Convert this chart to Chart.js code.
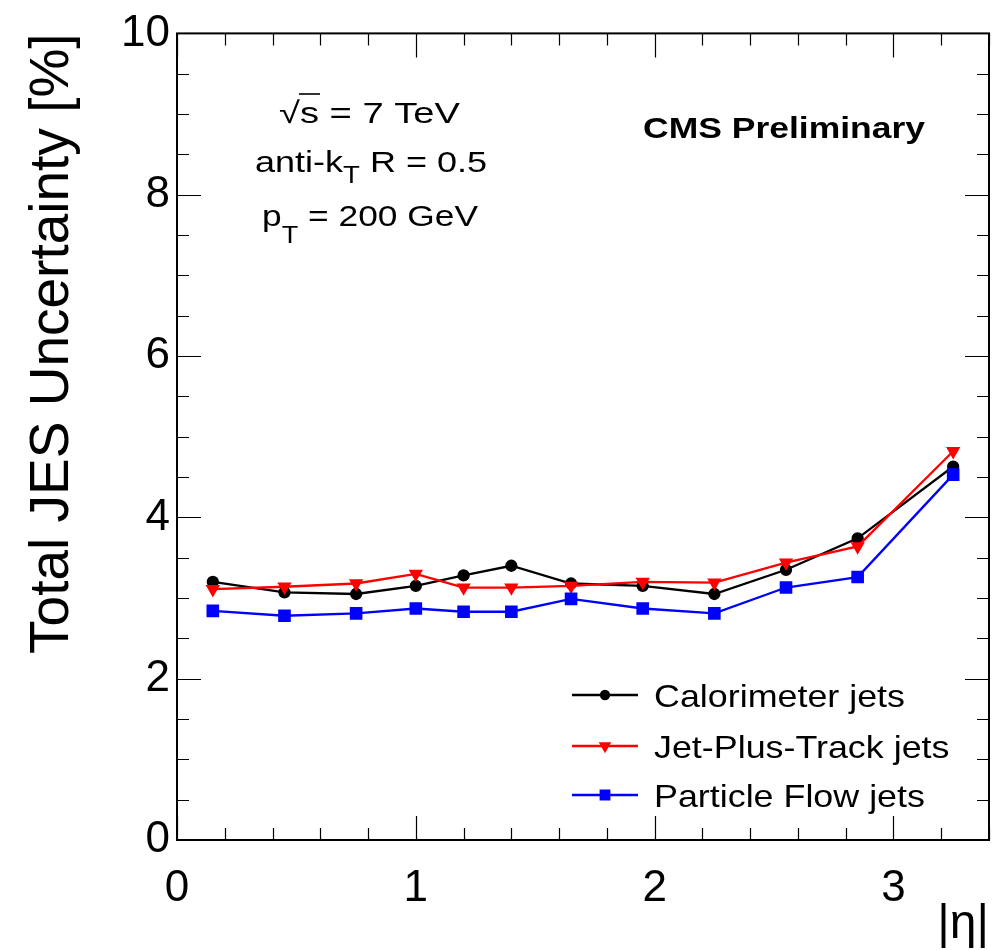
<!DOCTYPE html>
<html><head><meta charset="utf-8">
<script src="https://cdn.jsdelivr.net/npm/chart.js@4"></script>
<style>html,body{margin:0;padding:0;background:#fff}canvas{display:block}</style>
</head><body>
<canvas id="c" width="993" height="950"></canvas>
<script>
// ---- data ----
const etaBins   = [0.15, 0.45, 0.75, 1.0, 1.2, 1.4, 1.65, 1.95, 2.25, 2.55, 2.85, 3.25];
const caloJets  = [3.20, 3.07, 3.05, 3.15, 3.28, 3.40, 3.18, 3.15, 3.05, 3.35, 3.74, 4.63];
const jptJets   = [3.11, 3.14, 3.18, 3.30, 3.13, 3.13, 3.15, 3.20, 3.19, 3.44, 3.64, 4.82];
const pfJets    = [2.84, 2.78, 2.81, 2.87, 2.83, 2.83, 2.99, 2.87, 2.81, 3.13, 3.26, 4.53];
const seriesNames = ['Calorimeter jets', 'Jet-Plus-Track jets', 'Particle Flow jets'];
const xTickLabels = [0, 1, 2, 3];
const yTickLabels = [0, 2, 4, 6, 8, 10];

const FONT = '"Liberation Sans", Arial, Helvetica, sans-serif';
const pts = ys => etaBins.map((x, i) => ({x: x, y: ys[i]}));

function drawRuns(ctx, runs, cx, baseline, targetW) {
  let w = 0;
  runs.forEach(r => {
    ctx.font = (r.bold ? 'bold ' : '') + r.size + 'px ' + FONT;
    r.w = ctx.measureText(r.t).width; w += r.w;
  });
  const sx = targetW / w;
  let x = cx - targetW / 2;
  runs.forEach(r => {
    ctx.save();
    ctx.font = (r.bold ? 'bold ' : '') + r.size + 'px ' + FONT;
    ctx.translate(x, baseline + (r.dy || 0));
    ctx.scale(sx, 1);
    ctx.fillText(r.t, 0, 0);
    ctx.restore();
    r.x = x; r.sw = r.w * sx; x += r.sw;
  });
  return runs;
}

const frameTicks = {
  id: 'frameTicks',
  afterDatasetsDraw(chart) {
    const {ctx, chartArea: a, scales: {x, y}} = chart;
    ctx.save();
    ctx.strokeStyle = '#000';
    ctx.lineWidth = 1.2;
    ctx.beginPath();
    for (let i = 0; i <= 17; i++) {
      const v = i * 0.2;
      if (v > x.max + 1e-9) break;
      const L = (i % 5 === 0) ? 24 : 12;
      const px = Math.round(x.getPixelForValue(v)) + 0.5;
      ctx.moveTo(px, a.bottom); ctx.lineTo(px, a.bottom - L);
      ctx.moveTo(px, a.top); ctx.lineTo(px, a.top + L);
    }
    for (let i = 0; i <= 20; i++) {
      const v = i * 0.5;
      const L = (i % 4 === 0) ? 24 : 12;
      const py = Math.round(y.getPixelForValue(v)) + 0.5;
      ctx.moveTo(a.left, py); ctx.lineTo(a.left + L, py);
      ctx.moveTo(a.right, py); ctx.lineTo(a.right - L, py);
    }
    ctx.stroke();
    ctx.lineWidth = 2;
    ctx.strokeRect(a.left, a.top, a.right - a.left, a.bottom - a.top);
    ctx.restore();
  },
  afterDraw(chart) {
    const ctx = chart.ctx;
    ctx.save();
    ctx.fillStyle = '#000';
    ctx.textBaseline = 'alphabetic';
    // sqrt(s) line
    const l1 = drawRuns(ctx, [{t: '\u221A', size: 30}, {t: 's = 7 TeV', size: 30}], 369.5, 123, 181);
    ctx.font = '30px ' + FONT;
    const sW = ctx.measureText('s').width * (l1[1].sw / l1[1].w);
    ctx.strokeStyle = '#000'; ctx.lineWidth = 1.6;
    ctx.beginPath(); ctx.moveTo(l1[1].x - 1, 94); ctx.lineTo(l1[1].x + sW + 1, 94); ctx.stroke();
    drawRuns(ctx, [{t: 'anti-k', size: 30}, {t: 'T', size: 23, dy: 11}, {t: ' R = 0.5', size: 30}], 371, 172, 232);
    drawRuns(ctx, [{t: 'p', size: 30}, {t: 'T', size: 23, dy: 17}, {t: ' = 200 GeV', size: 30}], 370, 226, 216);
    drawRuns(ctx, [{t: 'CMS Preliminary', size: 30, bold: true}], 784, 138, 282);

    // legend
    const rows = [695, 746, 795];
    ctx.font = '32px ' + FONT;
    const sx = 251 / ctx.measureText(chart.data.datasets[0].label).width;
    chart.data.datasets.forEach((ds, i) => {
      const cy = rows[i];
      ctx.strokeStyle = ds.borderColor; ctx.lineWidth = 2.3;
      ctx.beginPath(); ctx.moveTo(572, cy); ctx.lineTo(638, cy); ctx.stroke();
      ctx.fillStyle = ds.pointBackgroundColor; ctx.strokeStyle = ds.borderColor;
      Chart.helpers.drawPoint(ctx, {pointStyle: ds.pointStyle, rotation: ds.pointRotation || 0,
        radius: ds.legendRadius, borderWidth: 1}, 605, cy);
      ctx.fillStyle = '#000';
      ctx.save();
      ctx.font = '32px ' + FONT;
      ctx.translate(654, cy + 12); ctx.scale(sx, 1);
      ctx.fillText(ds.label, 0, 0);
      ctx.restore();
    });
    ctx.restore();
  }
};

new Chart(document.getElementById('c'), {
  type: 'line',
  data: {
    datasets: [
      {label: seriesNames[0], data: pts(caloJets), borderColor: '#000000', backgroundColor: '#000000',
       pointBackgroundColor: '#000000', pointBorderColor: '#000000', pointStyle: 'circle', pointRadius: 5,
       legendRadius: 4, borderWidth: 2.3, order: 2},
      {label: seriesNames[1], data: pts(jptJets), borderColor: '#ff0000', backgroundColor: '#ff0000',
       pointBackgroundColor: '#ff0000', pointBorderColor: '#ff0000', pointStyle: 'triangle', pointRotation: 180,
       pointRadius: 6, legendRadius: 5, borderWidth: 2.3, order: 1},
      {label: seriesNames[2], data: pts(pfJets), borderColor: '#0000ff', backgroundColor: '#0000ff',
       pointBackgroundColor: '#0000ff', pointBorderColor: '#0000ff', pointStyle: 'rect', pointRadius: 7.3,
       legendRadius: 6, borderWidth: 2.3, order: 0}
    ]
  },
  options: {
    responsive: false,
    animation: false,
    devicePixelRatio: 1,
    layout: {autoPadding: false, padding: {top: 32, right: 4, left: 0, bottom: 0}},
    elements: {line: {tension: 0}, point: {borderWidth: 1}},
    plugins: {legend: {display: false}, tooltip: {enabled: false}},
    scales: {
      x: {
        type: 'linear', min: 0, max: 3.4,
        afterBuildTicks: s => { s.ticks = xTickLabels.map(v => ({value: v})); },
        afterFit: s => { s.height = 110; },
        grid: {display: false, drawTicks: false},
        border: {display: false},
        ticks: {color: '#000', font: {family: FONT, size: 44}, padding: 22, maxRotation: 0,
                autoSkip: false, callback: v => String(v)},
        title: {display: true, text: '|\u03B7|', align: 'end', color: '#000',
                font: {family: FONT, size: 48, lineHeight: 1}, padding: {top: 0, bottom: 1}}
      },
      y: {
        type: 'linear', min: 0, max: 10,
        afterBuildTicks: s => { s.ticks = yTickLabels.map(v => ({value: v})); },
        afterFit: s => { s.width = 177; },
        grid: {display: false, drawTicks: false},
        border: {display: false},
        ticks: {color: '#000', font: {family: FONT, size: 44}, padding: 7, autoSkip: false,
                callback: v => String(v)},
        title: {display: true, text: 'Total JES Uncertainty [%]', align: 'end', color: '#000',
                font: {family: FONT, size: 55, lineHeight: 1}, padding: {top: 25, bottom: 0}}
      }
    }
  },
  plugins: [frameTicks]
});
</script>
</body></html>
